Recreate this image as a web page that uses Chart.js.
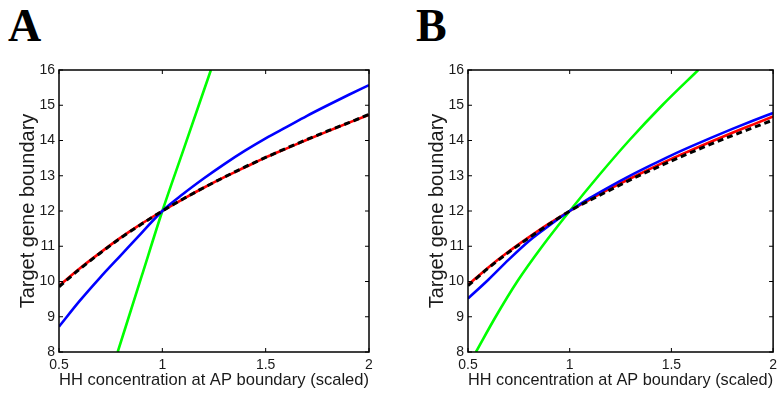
<!DOCTYPE html>
<html>
<head>
<meta charset="utf-8">
<script src="https://cdn.jsdelivr.net/npm/chart.js@4/dist/chart.umd.min.js"></script>
<style>
    html, body { margin: 0; padding: 0; background: #fff; }
    #wrap { position: relative; width: 782px; height: 394px; overflow: hidden; }
    canvas { position: absolute; top: 0; }
    #chartA { left: 0; }
    #chartB { left: 409px; }
    .panel-letter {
        position: absolute;
        top: 3px;
        font: bold 46px/46px "Liberation Serif", "Times New Roman", serif;
        color: #000;
    }
</style>
</head>
<body>
<div id="wrap">
    <div class="panel-letter" style="left: 8px;">A</div>
    <div class="panel-letter" style="left: 416px;">B</div>
    <canvas id="chartA" width="391" height="394"></canvas>
    <canvas id="chartB" width="373" height="394"></canvas>
</div>
<script>
// --- DATA ---
const xTicks = [0.5, 1, 1.5, 2];
const yTicks = [8, 9, 10, 11, 12, 13, 14, 15, 16];
const xLabel = 'HH concentration at AP boundary (scaled)';
const yLabel = 'Target gene boundary';

const hhValues = [0.5, 0.6, 0.7, 0.8, 0.9, 1.0, 1.1, 1.2, 1.3, 1.4, 1.5, 1.6, 1.7, 1.8, 1.9, 2.0];

// panel A
const redA = [9.88, 10.37, 10.82, 11.25, 11.64, 12.0, 12.34, 12.66, 12.96, 13.24, 13.52, 13.77, 14.02, 14.26, 14.50, 14.73];
const blackA = [9.85, 10.35, 10.81, 11.24, 11.63, 12.0, 12.34, 12.66, 12.96, 13.25, 13.52, 13.78, 14.03, 14.27, 14.50, 14.74];
const blueA = [8.72, 9.45, 10.12, 10.75, 11.38, 12.0, 12.48, 12.92, 13.33, 13.71, 14.06, 14.38, 14.70, 15.00, 15.29, 15.57];
const greenAx = [0.784, 0.9, 1.0, 1.1, 1.235];
const greenAy = [8, 10.15, 12, 13.7, 16];

// panel B
const redB = [9.90, 10.40, 10.85, 11.26, 11.65, 12.0, 12.33, 12.64, 12.93, 13.21, 13.48, 13.73, 13.98, 14.22, 14.45, 14.68];
const blackB = [9.88, 10.38, 10.83, 11.24, 11.63, 12.0, 12.31, 12.60, 12.89, 13.16, 13.42, 13.67, 13.91, 14.14, 14.36, 14.58];
const blueB = [9.52, 10.05, 10.62, 11.15, 11.59, 12.0, 12.37, 12.70, 13.01, 13.30, 13.58, 13.84, 14.09, 14.33, 14.56, 14.78];
const greenBx = [0.539, 0.636, 0.742, 0.865, 1.0, 1.142, 1.292, 1.455, 1.632];
const greenBy = [8, 9, 10, 11, 12, 13, 14, 15, 16];

// --- DEFAULTS ---
Chart.defaults.font.family = '"Liberation Sans", Arial, Helvetica, sans-serif';
Chart.defaults.color = '#1a1a1a';

// --- HELPERS ---
function toPoints(xs, ys) {
    return xs.map((x, i) => ({ x: x, y: ys[i] }));
}

function lineSet(label, xs, ys, color, dashed) {
    return {
        label: label,
        data: toPoints(xs, ys),
        showLine: true,
        borderColor: color,
        backgroundColor: color,
        borderWidth: dashed ? 3 : 2.6,
        borderDash: dashed ? [6, 4] : [],
        pointRadius: 0,
        cubicInterpolationMode: 'monotone'
    };
}

// draws the closed box with inward ticks on all four sides
const boxPlugin = {
    id: 'matlabBox',
    afterDraw(chart) {
        const { ctx, chartArea: a, scales } = chart;
        const tick = 4;
        ctx.save();
        ctx.strokeStyle = '#000';
        ctx.lineWidth = 1.5;
        ctx.strokeRect(a.left, a.top, a.right - a.left, a.bottom - a.top);
        ctx.lineWidth = 1;
        ctx.beginPath();
        scales.x.ticks.forEach(t => {
            const px = scales.x.getPixelForValue(t.value);
            ctx.moveTo(px, a.bottom); ctx.lineTo(px, a.bottom - tick);
            ctx.moveTo(px, a.top); ctx.lineTo(px, a.top + tick);
        });
        scales.y.ticks.forEach(t => {
            const py = scales.y.getPixelForValue(t.value);
            ctx.moveTo(a.left, py); ctx.lineTo(a.left + tick, py);
            ctx.moveTo(a.right, py); ctx.lineTo(a.right - tick, py);
        });
        ctx.stroke();
        ctx.restore();
    }
};

function makePanel(canvasId, rightPad, red, black, blue, greenX, greenY) {
    return new Chart(document.getElementById(canvasId), {
        type: 'scatter',
        data: {
            datasets: [
                lineSet('black', hhValues, black, '#000000', true),
                lineSet('blue', hhValues, blue, '#0000ff', false),
                lineSet('red', hhValues, red, '#ff0000', false),
                lineSet('green', greenX, greenY, '#00ff00', false)
            ]
        },
        options: {
            responsive: false,
            animation: false,
            layout: { padding: { top: 70, right: rightPad, left: 0, bottom: 0 } },
            plugins: {
                legend: { display: false },
                tooltip: { enabled: false }
            },
            scales: {
                x: {
                    type: 'linear',
                    min: xTicks[0],
                    max: xTicks[xTicks.length - 1],
                    grid: { display: false, drawTicks: false },
                    border: { display: false },
                    afterBuildTicks: s => { s.ticks = xTicks.map(v => ({ value: v })); },
                    afterFit: s => { s.height = 42; },
                    ticks: {
                        padding: 5,
                        maxRotation: 0,
                        font: { size: 14 },
                        callback: v => String(v)
                    },
                    title: {
                        display: true,
                        text: xLabel,
                        color: '#1a1a1a',
                        font: { size: 17 },
                        padding: { top: 0, bottom: 3 }
                    }
                },
                y: {
                    type: 'linear',
                    min: yTicks[0],
                    max: yTicks[yTicks.length - 1],
                    grid: { display: false, drawTicks: false },
                    border: { display: false },
                    afterBuildTicks: s => { s.ticks = yTicks.map(v => ({ value: v })); },
                    afterFit: s => { s.width = 59; },
                    ticks: {
                        padding: 4,
                        font: { size: 14 },
                        callback: v => String(v)
                    },
                    title: {
                        display: true,
                        text: yLabel,
                        color: '#1a1a1a',
                        font: { size: 20 },
                        padding: { top: 16, bottom: 0 }
                    }
                }
            }
        },
        plugins: [boxPlugin]
    });
}

// --- INIT ---
makePanel('chartA', 22, redA, blackA, blueA, greenAx, greenAy);
makePanel('chartB', 4, redB, blackB, blueB, greenBx, greenBy);
</script>
</body>
</html>
